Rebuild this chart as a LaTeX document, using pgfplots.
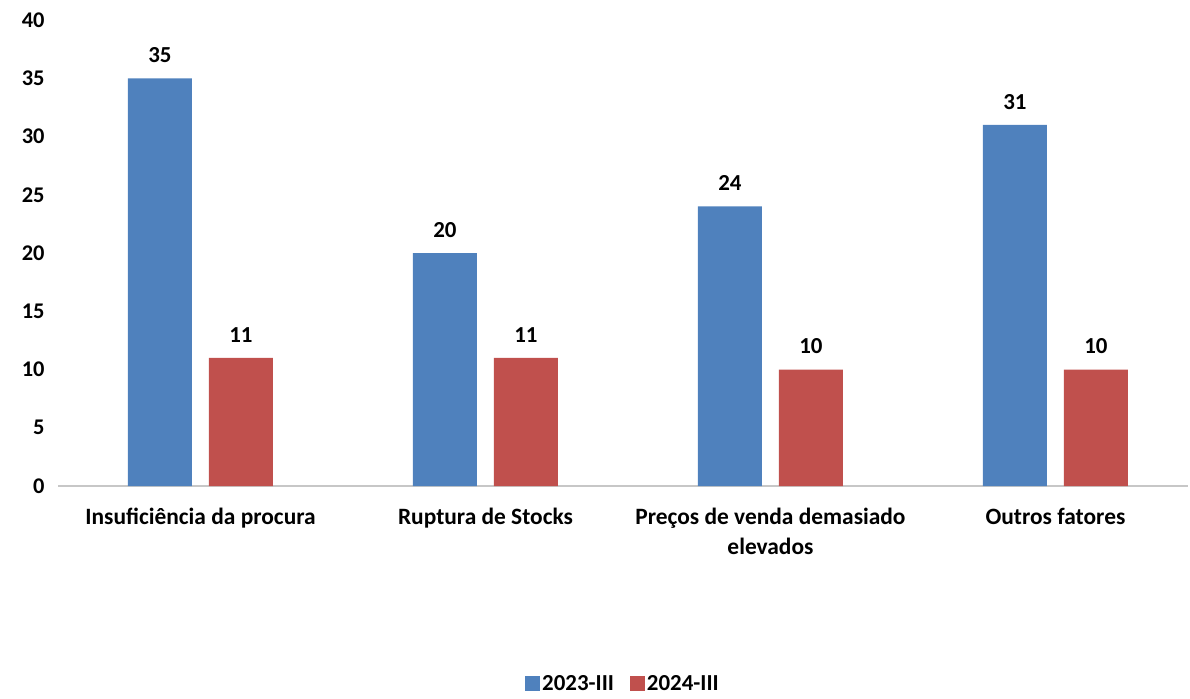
\documentclass[border=0pt]{standalone}
\usepackage{fontspec}
\setmainfont{Carlito}
\usepackage{pgfplots}
\pgfplotsset{compat=1.18}
\definecolor{serA}{HTML}{4F81BD}
\definecolor{serB}{HTML}{C0504D}
\begin{document}
\begin{tikzpicture}
\useasboundingbox (-58bp,-213bp) rectangle (1132bp,486bp);
\begin{axis}[
    at={(0,0)}, anchor=south west,
    scale only axis, width=1130bp, height=466bp,
    ybar=17bp, bar width=64bp,
    xmin=-0.5, xmax=3.465, ymin=0, ymax=40,
    ytick={0,5,...,40},
    xtick=data,
    xticklabels={Insuficiência da procura, Ruptura de Stocks, {Preços de venda demasiado\\elevados}, Outros fatores},
    xticklabel style={align=center, font=\fontsize{23.5}{30}\selectfont\bfseries, yshift=-19bp},
    yticklabel style={font=\fontsize{22.5}{26}\selectfont\bfseries, xshift=-10bp},
    /pgf/number format/assume math mode=true,
    axis x line*=bottom, axis y line*=left,
    x axis line style={draw=black!22, line width=1.2bp},
    y axis line style={draw=none},
    major tick length=0pt,
    nodes near coords,
    every node near coord/.append style={font=\fontsize{23}{26}\selectfont\bfseries, yshift=12bp},
    legend style={draw=none, at={(0.5,-0.424)}, anchor=center, legend columns=2,
        font=\fontsize{23}{26}\selectfont\bfseries, /tikz/every even column/.append style={column sep=14bp}},
    legend image code/.code={\fill[#1] (0bp,-7bp) rectangle (15bp,8bp);},
    clip=false,
]
\addplot[fill=serA, draw=none] coordinates {(0,35) (1,20) (2,24) (3,31)};
\addplot[fill=serB, draw=none] coordinates {(0,11) (1,11) (2,10) (3,10)};
\legend{2023-III, 2024-III}
\end{axis}
\end{tikzpicture}
\end{document}
